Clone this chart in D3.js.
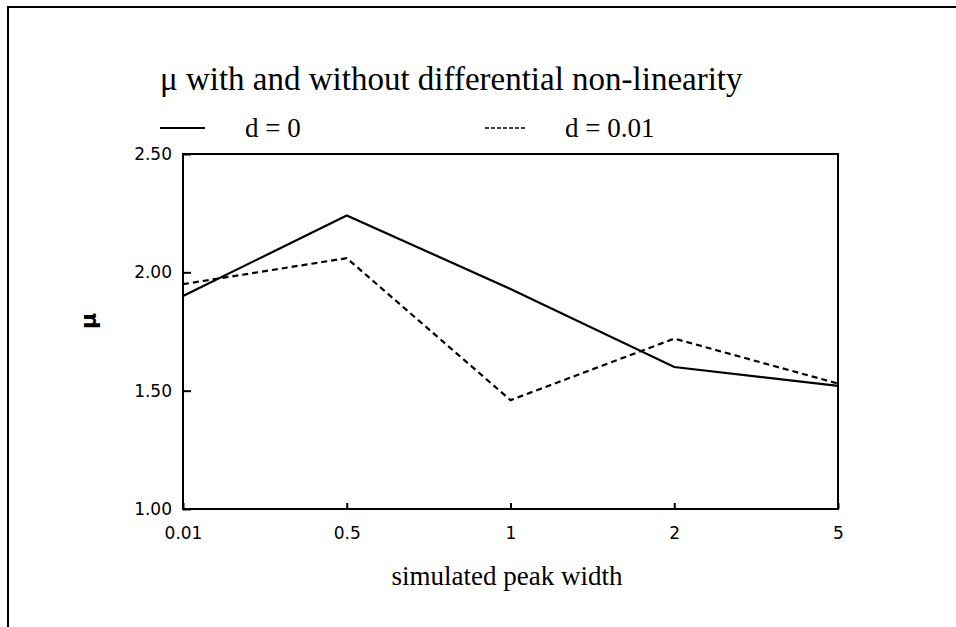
<!DOCTYPE html>
<html>
<head>
<meta charset="utf-8">
<script src="https://cdn.jsdelivr.net/npm/d3@7"></script>
<style>
  html, body { margin: 0; padding: 0; background: #fff; }
  svg { display: block; }
</style>
</head>
<body>
<svg id="chart" width="956" height="627"></svg>
<script>
// Simulated peak widths (x categories) and the fitted mu for each setting of d
const widths = ["0.01", "0.5", "1", "2", "5"];
const muD0 = [1.90, 2.24, 1.93, 1.60, 1.52];
const muD001 = [1.95, 2.06, 1.46, 1.72, 1.53];
const yTicks = [1.00, 1.50, 2.00, 2.50];
const seriesNames = ["d = 0", "d = 0.01"];

const svg = d3.select("#chart");
const serif = "'Liberation Serif', 'Times New Roman', serif";
const sans = "'DejaVu Sans', sans-serif";

const plot = { left: 183, right: 838, top: 154, bottom: 509 };

// outer frame (top and left edges)
svg.append("path")
  .attr("d", "M8,627 L8,7 L956,7")
  .attr("fill", "none").attr("stroke", "#000").attr("stroke-width", 2);

const x = d3.scalePoint().domain(widths).range([plot.left, plot.right]);
const y = d3.scaleLinear().domain([1.0, 2.5]).range([plot.bottom, plot.top]);

// plot box
svg.append("rect")
  .attr("x", plot.left).attr("y", plot.top)
  .attr("width", plot.right - plot.left).attr("height", plot.bottom - plot.top)
  .attr("fill", "none").attr("stroke", "#000").attr("stroke-width", 2);

// y axis: inward ticks, labels on the left
const yAxis = d3.axisRight(y).tickValues(yTicks).tickSize(8).tickFormat(d3.format(".2f"));
const gy = svg.append("g").attr("transform", `translate(${plot.left},0)`).call(yAxis);
gy.select(".domain").remove();
gy.selectAll(".tick line").attr("stroke", "#000").attr("stroke-width", 2);
gy.selectAll(".tick text")
  .attr("x", -11).attr("text-anchor", "end")
  .style("font-family", sans).style("font-size", "17px").attr("fill", "#000");

// x axis: inward ticks, labels below
const xAxis = d3.axisTop(x).tickSize(6);
const gx = svg.append("g").attr("transform", `translate(0,${plot.bottom})`).call(xAxis);
gx.select(".domain").remove();
gx.selectAll(".tick line").attr("stroke", "#000").attr("stroke-width", 2);
gx.selectAll(".tick text")
  .attr("y", 30).attr("dy", 0)
  .style("font-family", sans).style("font-size", "17px").attr("fill", "#000");

// series lines
const line = d3.line().x((d, i) => x(widths[i])).y(d => y(d));
svg.append("path").datum(muD0)
  .attr("d", line).attr("fill", "none")
  .attr("stroke", "#000").attr("stroke-width", 2.2);
svg.append("path").datum(muD001)
  .attr("d", line).attr("fill", "none")
  .attr("stroke", "#000").attr("stroke-width", 2.2)
  .attr("stroke-dasharray", "6,4");

// title
svg.append("text")
  .attr("x", 160).attr("y", 90)
  .style("font-family", serif).style("font-size", "33px").attr("fill", "#000")
  .text("\u03bc with and without differential non-linearity");

// legend
const legendY = 128;
svg.append("line")
  .attr("x1", 160).attr("x2", 205).attr("y1", legendY).attr("y2", legendY)
  .attr("stroke", "#000").attr("stroke-width", 2);
svg.append("text")
  .attr("x", 245).attr("y", legendY + 9)
  .style("font-family", serif).style("font-size", "27px").attr("fill", "#000")
  .text(seriesNames[0]);
svg.append("line")
  .attr("x1", 485).attr("x2", 527).attr("y1", legendY).attr("y2", legendY)
  .attr("stroke", "#000").attr("stroke-width", 1.5).attr("stroke-dasharray", "4,2");
svg.append("text")
  .attr("x", 565).attr("y", legendY + 9)
  .style("font-family", serif).style("font-size", "27px").attr("fill", "#000")
  .text(seriesNames[1]);

// axis titles
svg.append("text")
  .attr("x", 507).attr("y", 585)
  .attr("text-anchor", "middle")
  .style("font-family", serif).style("font-size", "27px").attr("fill", "#000")
  .text("simulated peak width");

svg.append("text")
  .attr("transform", `translate(96,321) rotate(-90)`)
  .attr("text-anchor", "middle")
  .style("font-family", sans).style("font-size", "22px").attr("font-weight", "bold").attr("fill", "#000")
  .text("\u03bc");
</script>
</body>
</html>
